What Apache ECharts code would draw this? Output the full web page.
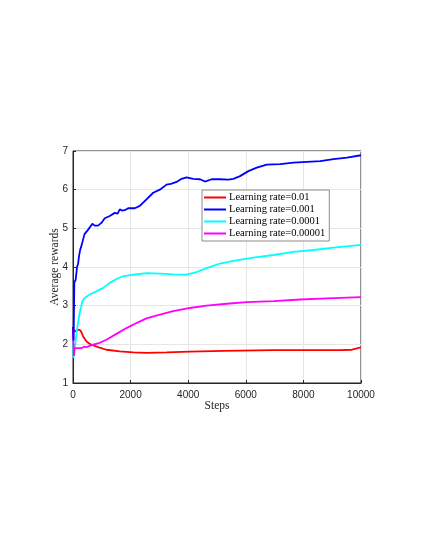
<!DOCTYPE html>
<html><head><meta charset="utf-8">
<script src="https://cdn.jsdelivr.net/npm/echarts@6/dist/echarts.min.js"></script>
<style>html,body{margin:0;padding:0;background:#fff}#c{width:421px;height:545px}</style>
</head><body><div id="c"></div>
<script>
const seriesNames = ['Learning rate=0.01','Learning rate=0.001','Learning rate=0.0001','Learning rate=0.00001'];
const xTicks = [0,2000,4000,6000,8000,10000];
const yTicks = [1,2,3,4,5,6,7];
const lr001 = [[0,2.3],[10,2.45],[25,2.32],[46,2.34],[93,2.31],[174,2.38],[255,2.36],[300,2.3],[348,2.21],[400,2.15],[464,2.08],[550,2.03],[638,1.99],[870,1.93],[1160,1.86],[1624,1.82],[2088,1.79],[2552,1.78],[3248,1.79],[4060,1.81],[5220,1.83],[6960,1.85],[9280,1.85],[9686,1.86],[10000,1.92]];
const lr0001 = [[0,2.45],[20,2.1],[46,3.6],[70,3.65],[93,3.67],[140,4.0],[180,4.1],[209,4.28],[250,4.45],[290,4.54],[348,4.58],[400,4.85],[464,4.88],[520,4.96],[580,5.01],[673,5.12],[754,5.07],[870,5.07],[986,5.14],[1102,5.26],[1276,5.32],[1450,5.4],[1550,5.38],[1624,5.49],[1700,5.46],[1798,5.47],[1914,5.52],[2146,5.52],[2320,5.58],[2552,5.75],[2784,5.92],[3016,6.0],[3248,6.13],[3400,6.15],[3596,6.2],[3770,6.28],[3944,6.32],[4176,6.28],[4408,6.27],[4582,6.21],[4814,6.27],[5104,6.27],[5394,6.26],[5568,6.28],[5800,6.35],[6090,6.48],[6380,6.57],[6728,6.65],[7192,6.66],[7656,6.7],[8120,6.72],[8584,6.74],[9048,6.79],[9512,6.83],[10000,6.89]];
const lr00001 = [[0,2.12],[23,1.65],[46,1.85],[70,1.95],[140,2.38],[232,2.81],[325,3.11],[406,3.2],[580,3.29],[812,3.37],[1044,3.46],[1276,3.59],[1508,3.69],[1740,3.76],[2088,3.8],[2552,3.84],[3016,3.83],[3480,3.81],[3944,3.8],[4292,3.87],[4640,3.97],[5104,4.09],[5568,4.16],[6264,4.24],[6960,4.31],[7656,4.39],[8352,4.44],[9048,4.5],[10000,4.57]];
const lr000001 = [[0,2.42],[15,2.0],[35,1.7],[55,1.9],[70,1.86],[100,1.92],[140,1.9],[200,1.93],[290,1.9],[380,1.94],[464,1.93],[696,1.99],[928,2.04],[1160,2.12],[1508,2.27],[1856,2.42],[2204,2.55],[2552,2.67],[3016,2.77],[3480,2.86],[4060,2.94],[4640,3.0],[5336,3.05],[6032,3.09],[6960,3.12],[7888,3.16],[8816,3.19],[10000,3.22]];
const colors = ['#ff0000','#0000ff','#00ffff','#ff00ff'];
const datas = [lr001, lr0001, lr00001, lr000001];

const chart = echarts.init(document.getElementById('c'), null, {renderer:'canvas'});
const serif = '"Liberation Serif","DejaVu Serif",serif';
const sans = '"Liberation Sans",Arial,sans-serif';
chart.setOption({
  backgroundColor:'#fff',
  animation:false,
  grid:{left:73,right:60,top:151,bottom:162,show:true,borderColor:'#262626',borderWidth:1,backgroundColor:'transparent'},
  legend:{
    data:seriesNames, orient:'vertical', left:202, top:190,
    backgroundColor:'#fff', borderColor:'#8c8c8c', borderWidth:1, padding:[2,4,2,2],
    itemWidth:22, itemHeight:2, itemGap:1, icon:'rect',
    textStyle:{fontFamily:serif, fontSize:10.5, color:'#000', padding:[0,0,0,-2]}
  },
  xAxis:{type:'value',min:0,max:10000,interval:2000,
    name:'Steps',nameLocation:'middle',nameGap:17,nameMoveOverlap:false,nameTextStyle:{fontFamily:serif,fontSize:11.5,color:'#262626'},
    axisLine:{show:true,lineStyle:{color:'#262626',width:1}},
    axisTick:{show:true,inside:true,length:3,lineStyle:{color:'#262626'}},
    axisLabel:{fontFamily:sans,fontSize:10,color:'#262626',margin:7,formatter:v=>String(v)},
    splitLine:{show:true,lineStyle:{color:'#e6e6e6',width:1}}},
  yAxis:{type:'value',min:1,max:7,interval:1,
    name:'Average rewards',nameLocation:'middle',nameGap:12,nameMoveOverlap:false,nameTextStyle:{fontFamily:serif,fontSize:11.5,color:'#262626'},
    axisLine:{show:true,lineStyle:{color:'#262626',width:1}},
    axisTick:{show:true,inside:true,length:3,lineStyle:{color:'#262626'}},
    axisLabel:{fontFamily:sans,fontSize:10,color:'#262626',margin:5},
    splitLine:{show:true,lineStyle:{color:'#e6e6e6',width:1}}},
  series: seriesNames.map((n,i)=>({
    name:n,type:'line',data:datas[i],showSymbol:false,symbol:'none',smooth:false,
    lineStyle:{color:colors[i],width:1.8},itemStyle:{color:colors[i]},z:2+ (i===1?1:0)
  }))
});
</script></body></html>
